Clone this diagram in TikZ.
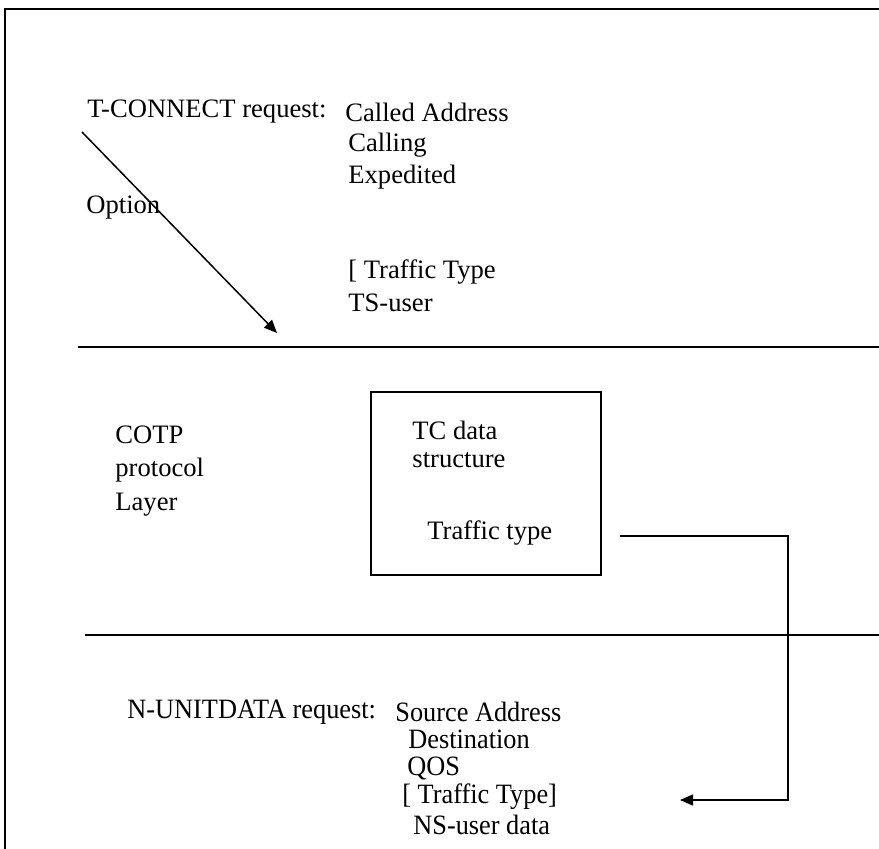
\documentclass[tikz,border=0pt]{standalone}
\usepackage{fontspec}
\setmainfont{Liberation Serif}
\usetikzlibrary{arrows.meta}
\tikzset{
	lbl/.style={anchor=west, inner sep=0pt, font=\fontsize{13.3}{16}\selectfont},
	low/.style={anchor=west, inner sep=0pt, font=\fontsize{14}{16}\selectfont},
	layer/.style={line width=1.1pt},
	link/.style={line width=0.75pt, -{Triangle[length=6.5pt, width=5.5pt]}}
}
\newcommand{\narrow}[1]{\scalebox{0.94}[1]{#1}}
\begin{document}
\begin{tikzpicture}[x=0.5pt, y=-0.5pt]
	\useasboundingbox (0, 0) rectangle (879, 848);
	% frame
	\draw[line width=1.1pt] (5, 860) -- (5, 9) -- (890, 9);
	% layer borders
	\coordinate (top1) at (78, 347);
	\coordinate (top2) at (890, 347);
	\draw[layer] (top1) -- (top2);
	\coordinate (bot1) at (85, 635);
	\coordinate (bot2) at (890, 635);
	\draw[layer] (bot1) -- (bot2);

	% T-CONNECT request
	\node[lbl] at (87, 112) (treq) {T-CONNECT request:};
	\node[lbl] at (345, 112) (t1) {Called Address};
	\node[lbl] at (348, 145) (t2) {Calling};
	\node[lbl] at (348, 177) (t3) {Expedited};
	\node[lbl] at (86, 208) (opt) {Option};
	\node[lbl] at (348, 272) (t4) {[ Traffic Type};
	\node[lbl] at (348, 303) (t5) {TS-user};
	\coordinate (in1) at (82, 132);
	\coordinate (in2) at (277, 333);
	\draw[link] (in1) -- (in2);

	% COTP layer
	\node[lbl] at (115, 435) (l1) {COTP};
	\node[lbl] at (115, 470) (l2) {protocol};
	\node[lbl] at (115, 505) (l3) {Layer};
	\node[draw, line width=1.1pt, minimum width=115pt, minimum height=91.5pt, inner sep=0pt] at (486, 483.5) (tc) {};
	\node[lbl] at (412, 430) (tc1) {TC data};
	\node[lbl] at (412, 460) (tc2) {structure};
	\node[lbl] at (427, 533) (tc3) {Traffic type};

	% N-UNITDATA request
	\node[low] at (127, 712) (nreq) {\narrow{N-UNITDATA request:}};
	\node[low] at (395, 712) (n1) {\narrow{Source Address}};
	\node[low] at (408, 739) (n2) {\narrow{Destination}};
	\node[low] at (407, 768) (n3) {\narrow{QOS}};
	\node[low] at (402, 797) (n4) {\narrow{[ Traffic Type]}};
	\node[low] at (413, 825) (n5) {\narrow{NS-user data}};

	% traffic type passed down
	\coordinate (tt1) at (620, 536);
	\coordinate (tt2) at (788, 536);
	\coordinate (tt3) at (788, 800);
	\coordinate (tt4) at (680, 800);
	\draw[link] (tt1) -- (tt2) -- (tt3) -- (tt4);
\end{tikzpicture}
\end{document}
